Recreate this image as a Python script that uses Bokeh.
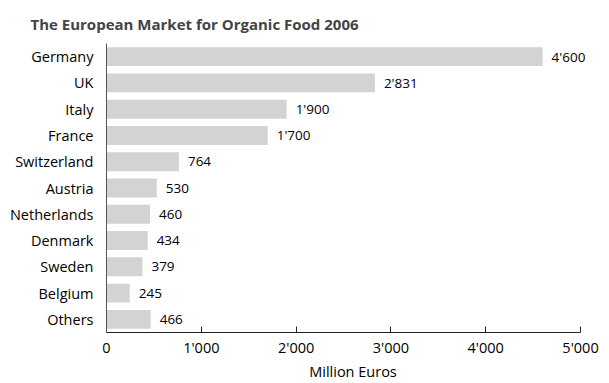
from bokeh.plotting import figure
from bokeh.models import ColumnDataSource, LabelSet, FixedTicker, Range1d, FactorRange
from bokeh.core.properties import value
from bokeh.embed import file_html
from bokeh.resources import INLINE

title = "The European Market for Organic Food 2006"
countries = ["Germany", "UK", "Italy", "France", "Switzerland", "Austria",
             "Netherlands", "Denmark", "Sweden", "Belgium", "Others"]
values = [4600, 2831, 1900, 1700, 764, 530, 460, 434, 379, 245, 466]
x_ticks = [0, 1000, 2000, 3000, 4000, 5000]
x_tick_labels = ["0", "1'000", "2'000", "3'000", "4'000", "5'000"]
x_title = "Million Euros"

FONT = "Open Sans"

labels = [f"{v:,}".replace(",", "'") for v in values]
src = ColumnDataSource(dict(country=countries, value=values, label=labels))

p = figure(frame_width=493, frame_height=289, output_backend="svg", toolbar_location=None,
           y_range=FactorRange(*reversed(countries), range_padding=0),
           x_range=Range1d(0, 5200),
           min_border_left=106, min_border_right=0, min_border_top=43, min_border_bottom=0)

p.hbar(y="country", right="value", height=0.72, source=src,
       fill_color="#d3d3d3", line_color=None)

ls = LabelSet(x="value", y="country", text="label", source=src,
              x_offset=9, text_baseline="middle", text_align="left",
              text_font=value(FONT), text_font_size="13.5px", text_color="#000000")
p.add_layout(ls)

p.title.text = title
p.title.text_font = FONT
p.title.text_font_size = "15px"
p.title.text_font_style = "bold"
p.title.align = "left"
p.title.offset = -76
p.title.standoff = 20

p.xgrid.visible = False
p.ygrid.visible = False
p.outline_line_color = None
p.background_fill_color = "white"

xa = p.xaxis[0]
xa.ticker = FixedTicker(ticks=x_ticks)
xa.bounds = (0, 5000)
xa.major_label_overrides = {t: l for t, l in zip(x_ticks, x_tick_labels)}
xa.major_tick_in = 6
xa.major_tick_out = 0
xa.minor_tick_line_color = None
xa.axis_line_color = "#222222"
xa.major_tick_line_color = "#222222"
xa.major_label_text_font = FONT
xa.major_label_text_font_size = "14.5px"
xa.major_label_text_color = "#000000"
xa.major_label_standoff = 5
xa.axis_label = x_title
xa.axis_label_text_font = FONT
xa.axis_label_text_font_size = "14.5px"
xa.axis_label_text_font_style = "normal"
xa.axis_label_text_color = "#000000"
xa.axis_label_standoff = 2

ya = p.yaxis[0]
ya.major_tick_line_color = None
ya.minor_tick_line_color = None
ya.axis_line_color = "#555555"
ya.major_label_text_font = FONT
ya.major_label_text_font_size = "14.5px"
ya.major_label_text_color = "#000000"
ya.major_label_standoff = 7

open("out.html", "w").write(file_html(p, INLINE))
